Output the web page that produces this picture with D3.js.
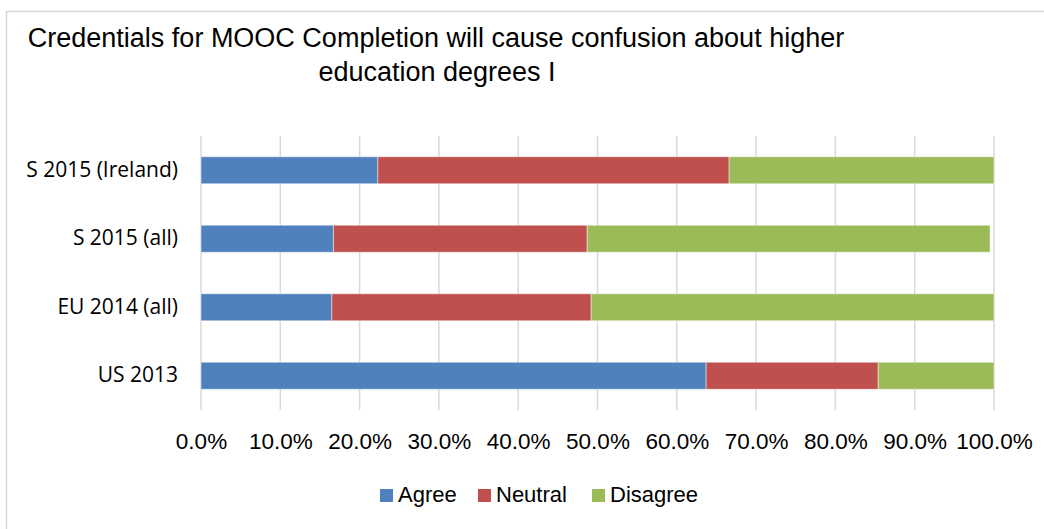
<!DOCTYPE html>
<html>
<head>
<meta charset="utf-8">
<script src="https://cdn.jsdelivr.net/npm/d3@7"></script>
<style>
  body { margin: 0; background: #fff; }
  svg { display: block; }
</style>
</head>
<body>
<main></main>
<script>
var width = 1044;
var height = 529;

// data
var categories = ['S 2015 (Ireland)', 'S 2015 (all)', 'EU 2014 (all)', 'US 2013'];
var seriesNames = ['Agree', 'Neutral', 'Disagree'];
var agree = [22.3, 16.7, 16.5, 63.7];
var neutral = [44.3, 32.0, 32.7, 21.7];
var disagree = [33.4, 50.8, 50.8, 14.6];
var tickValues = [0, 10, 20, 30, 40, 50, 60, 70, 80, 90, 100];
var colors = ['#4F81BD', '#C0504D', '#9BBB59'];

var rows = categories.map(function(c, i) {
  return { cat: c, Agree: agree[i], Neutral: neutral[i], Disagree: disagree[i] };
});

var margin = { left: 201, right: 50, top: 136, bottom: 119 };

var svg = d3.select('main').append('svg')
  .attr('width', width)
  .attr('height', height);

svg.append('rect')
  .attr('x', 6.5)
  .attr('y', 11.5)
  .attr('width', width + 20)
  .attr('height', height + 20)
  .attr('fill', '#fff')
  .attr('stroke', '#D9D9D9')
  .attr('stroke-width', 1.5);

var x = d3.scaleLinear().domain([0, 100]).range([margin.left, width - margin.right]);
var y = d3.scaleBand().domain(categories)
  .range([margin.top, height - margin.bottom])
  .paddingInner(0.606)
  .paddingOuter(0.303);

// gridlines
svg.append('g')
  .selectAll('line')
  .data(tickValues)
  .enter().append('line')
  .attr('x1', function(d) { return x(d); })
  .attr('x2', function(d) { return x(d); })
  .attr('y1', margin.top)
  .attr('y2', height - margin.bottom)
  .attr('stroke', '#D9D9D9')
  .attr('stroke-width', 1.5);

var stack = d3.stack().keys(seriesNames)(rows);

svg.append('g')
  .selectAll('g')
  .data(stack)
  .enter().append('g')
  .attr('fill', function(d, i) { return colors[i]; })
  .selectAll('rect')
  .data(function(d) { return d; })
  .enter().append('rect')
  .attr('x', function(d) { return x(d[0]); })
  .attr('width', function(d) { return x(d[1]) - x(d[0]); })
  .attr('y', function(d) { return y(d.data.cat); })
  .attr('height', y.bandwidth())
  .attr('stroke', 'rgba(255,255,255,0.45)')
  .attr('stroke-width', 1);

// x tick labels
var xAxis = d3.axisBottom(x)
  .tickValues(tickValues)
  .tickSize(0)
  .tickPadding(0)
  .tickFormat(function(d) { return d.toFixed(1) + '%'; });

var gx = svg.append('g')
  .attr('transform', 'translate(0,' + 449 + ')')
  .call(xAxis);
gx.select('.domain').remove();
gx.selectAll('text')
  .attr('dy', 0)
  .attr('fill', '#000')
  .style('font-family', '"Liberation Sans Narrow", sans-serif')
  .style('font-size', '22.5px');

// y labels
var yAxis = d3.axisLeft(y).tickSize(0).tickPadding(0);
var gy = svg.append('g')
  .attr('transform', 'translate(178,0)')
  .call(yAxis);
gy.select('.domain').remove();
gy.selectAll('text')
  .attr('fill', '#000')
  .style('font-family', '"Open Sans", sans-serif')
  .style('font-size', '21px');

// title
var title = svg.append('text')
  .attr('text-anchor', 'middle')
  .style('font-family', '"Liberation Sans Narrow", sans-serif')
  .style('font-size', '27px')
  .attr('fill', '#000');
title.append('tspan').attr('x', 436).attr('y', 47)
  .text('Credentials for MOOC Completion will cause confusion about higher');
title.append('tspan').attr('x', 437).attr('y', 81)
  .text('education degrees I');

// legend
var legendX = [380, 478, 592];
var legend = svg.append('g')
  .selectAll('g')
  .data(seriesNames)
  .enter().append('g')
  .attr('transform', function(d, i) { return 'translate(' + legendX[i] + ',489)'; });

legend.append('rect')
  .attr('width', 13)
  .attr('height', 13)
  .attr('fill', function(d, i) { return colors[i]; });

legend.append('text')
  .attr('x', 18)
  .attr('y', 13)
  .style('font-family', '"Liberation Sans Narrow", sans-serif')
  .style('font-size', '22px')
  .attr('fill', '#000')
  .text(function(d) { return d; });
</script>
</body>
</html>
